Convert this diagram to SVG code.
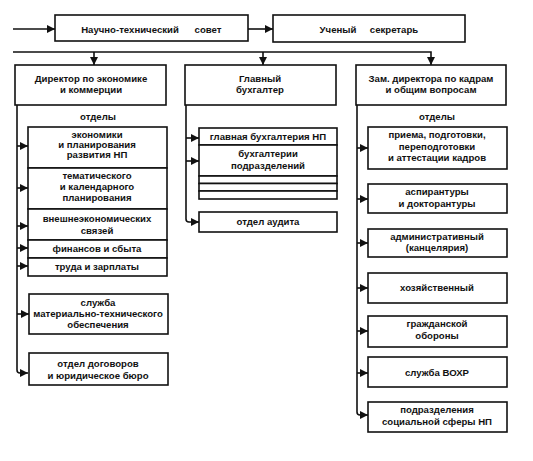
<svg xmlns="http://www.w3.org/2000/svg" width="533" height="461" viewBox="0 0 533 461">
<defs>
<marker id="ah" markerWidth="10" markerHeight="10" refX="8" refY="5" orient="auto" markerUnits="userSpaceOnUse">
<path d="M0,1 L8,5 L0,9 Z" fill="#111"/>
</marker>
<style>
.b{fill:#fff;stroke:#111;stroke-width:1.6}
.t{font-family:"Liberation Sans",Arial,sans-serif;font-size:9.6px;font-weight:bold;fill:#111;text-anchor:middle}
.c{fill:none;stroke:#111;stroke-width:1.6}
</style>
</defs>
<rect width="533" height="461" fill="#fff"/>
<g id="connectors">
<path class="c" d="M13,29 H55" marker-end="url(#ah)"/>
<path class="c" d="M248,29 H273" marker-end="url(#ah)"/>
<path class="c" d="M13,52 H431 V65" marker-end="url(#ah)"/>
<path class="c" d="M94,52 V65" marker-end="url(#ah)"/>
<path class="c" d="M263,52 V65" marker-end="url(#ah)"/>
<path class="c" d="M17,105 V370 Q17,373 20,373 H28" marker-end="url(#ah)"/>
<path class="c" d="M17,146 H28" marker-end="url(#ah)"/>
<path class="c" d="M17,188 H28" marker-end="url(#ah)"/>
<path class="c" d="M17,226 H28" marker-end="url(#ah)"/>
<path class="c" d="M17,248 H28" marker-end="url(#ah)"/>
<path class="c" d="M17,266 H28" marker-end="url(#ah)"/>
<path class="c" d="M17,314 H29" marker-end="url(#ah)"/>
<path class="c" d="M186,105 V219 Q186,222 189,222 H199" marker-end="url(#ah)"/>
<path class="c" d="M186,138 H199" marker-end="url(#ah)"/>
<path class="c" d="M186,161 H199" marker-end="url(#ah)"/>
<path class="c" d="M357,105 V412 Q357,415 360,415 H368" marker-end="url(#ah)"/>
<path class="c" d="M357,148 H368" marker-end="url(#ah)"/>
<path class="c" d="M357,199 H368" marker-end="url(#ah)"/>
<path class="c" d="M357,243 H368" marker-end="url(#ah)"/>
<path class="c" d="M357,288 H368" marker-end="url(#ah)"/>
<path class="c" d="M357,331 H368" marker-end="url(#ah)"/>
<path class="c" d="M357,373 H368" marker-end="url(#ah)"/>
</g>
<g id="ntc"><rect class="b" x="55" y="15" width="193" height="26"/><text class="t" x="130" y="33">Научно-технический</text><text class="t" x="208" y="33">совет</text></g>
<g id="secretary"><rect class="b" x="273" y="15" width="192" height="27"/><text class="t" x="338" y="33">Ученый</text><text class="t" x="394" y="33">секретарь</text></g>
<g id="director"><rect class="b" x="15" y="65" width="151" height="40"/><text class="t" x="91" y="82">Директор по экономике</text><text class="t" x="91" y="93">и коммерции</text></g>
<g id="accountant"><rect class="b" x="185" y="65" width="151" height="40"/><text class="t" x="260" y="82">Главный</text><text class="t" x="260" y="93">бухгалтер</text></g>
<g id="deputy"><rect class="b" x="356" y="65" width="150" height="40"/><text class="t" x="431" y="82">Зам. директора по кадрам</text><text class="t" x="431" y="93">и общим вопросам</text></g>
<text class="t" x="98" y="120">отделы</text>
<text class="t" x="437" y="120">отделы</text>
<g id="econ"><rect class="b" x="28" y="127" width="139" height="41"/><text class="t" x="97" y="138">экономики</text><text class="t" x="97" y="148">и планирования</text><text class="t" x="97" y="158">развития НП</text></g>
<g id="them"><rect class="b" x="28" y="168" width="139" height="41"/><text class="t" x="97" y="179">тематического</text><text class="t" x="97" y="190">и календарного</text><text class="t" x="97" y="201">планирования</text></g>
<g id="foreign"><rect class="b" x="28" y="209" width="139" height="31"/><text class="t" x="97" y="222">внешнеэкономических</text><text class="t" x="97" y="234">связей</text></g>
<g id="finance"><rect class="b" x="28" y="240" width="139" height="18"/><text class="t" x="97" y="252">финансов и сбыта</text></g>
<g id="labour"><rect class="b" x="28" y="258" width="139" height="18"/><text class="t" x="97" y="270">труда и зарплаты</text></g>
<g id="supply"><rect class="b" x="29" y="294" width="139" height="40"/><text class="t" x="98" y="306">служба</text><text class="t" x="98" y="317">материально-технического</text><text class="t" x="98" y="328">обеспечения</text></g>
<g id="contracts"><rect class="b" x="29" y="353" width="139" height="32"/><text class="t" x="98" y="367">отдел договоров</text><text class="t" x="98" y="379">и юридическое бюро</text></g>
<g id="mainacc"><rect class="b" x="199" y="128" width="138" height="17"/><text class="t" x="268" y="140">главная бухгалтерия НП</text></g>
<g id="subacc"><rect class="b" x="199" y="145" width="138" height="31"/><text class="t" x="268" y="157">бухгалтерии</text><text class="t" x="268" y="169">подразделений</text></g>
<g id="blank"><rect class="b" x="199" y="176" width="138" height="7.5"/><rect class="b" x="199" y="183.5" width="138" height="7.5"/><rect class="b" x="199" y="191" width="138" height="8"/></g>
<g id="audit"><rect class="b" x="199" y="212" width="138" height="20"/><text class="t" x="268" y="225">отдел аудита</text></g>
<g id="hr"><rect class="b" x="368" y="127" width="139" height="42"/><text class="t" x="437" y="138">приема, подготовки,</text><text class="t" x="437" y="150">переподготовки</text><text class="t" x="437" y="161">и аттестации кадров</text></g>
<g id="grad"><rect class="b" x="368" y="184" width="139" height="29"/><text class="t" x="437" y="195">аспирантуры</text><text class="t" x="437" y="207">и докторантуры</text></g>
<g id="admin"><rect class="b" x="368" y="229" width="139" height="28"/><text class="t" x="437" y="240">административный</text><text class="t" x="437" y="251">(канцелярия)</text></g>
<g id="household"><rect class="b" x="368" y="273" width="139" height="30"/><text class="t" x="437" y="291">хозяйственный</text></g>
<g id="civil"><rect class="b" x="368" y="316" width="139" height="31"/><text class="t" x="437" y="327">гражданской</text><text class="t" x="437" y="339">обороны</text></g>
<g id="guard"><rect class="b" x="368" y="357" width="139" height="30"/><text class="t" x="437" y="376">служба ВОХР</text></g>
<g id="social"><rect class="b" x="368" y="402" width="139" height="30"/><text class="t" x="437" y="413">подразделения</text><text class="t" x="437" y="425">социальной сферы НП</text></g>
</svg>
